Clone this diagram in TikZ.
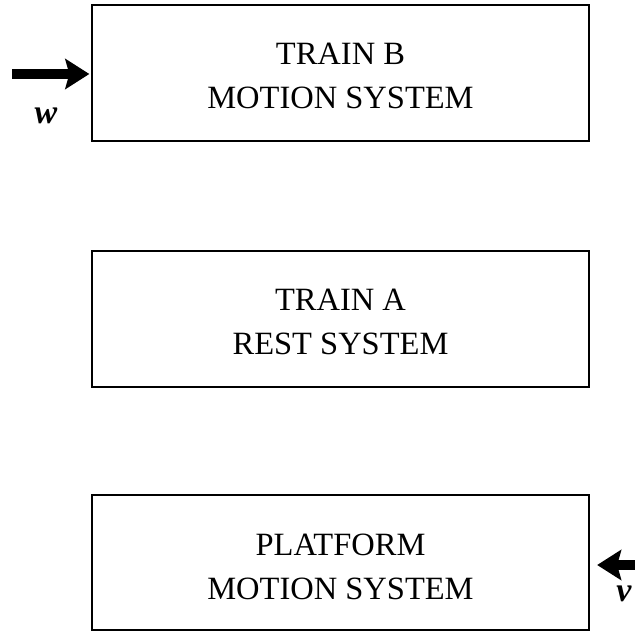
\documentclass[tikz,border=0pt]{standalone}
\usepackage{fontspec}
\setmainfont{Liberation Serif}
\usetikzlibrary{arrows.meta}
\tikzset{
  sysbox/.style={draw, line width=2.3pt, minimum width=497pt, minimum height=136pt, inner sep=0pt},
  boxtext/.style={align=center, inner sep=0pt, font=\fontsize{32.5}{44}\selectfont},
  inarrow/.style={line width=10pt, -{Stealth[length=24pt,width=30pt,inset=4pt]}},
  inlabel/.style={inner sep=0pt, font=\fontsize{34}{40}\selectfont\bfseries\itshape}
}
\begin{document}
\begin{tikzpicture}[x=1pt,y=-1pt]
\useasboundingbox (0,0) rectangle (635,631);
\node[sysbox] (b) at (340.5,73) {};
\node[sysbox] (a) at (340.5,319) {};
\node[sysbox, minimum height=135pt] (p) at (340.5,562.5) {};
\node[boxtext] (bt) at ([yshift=-3pt]b.center) {TRAIN B\\MOTION SYSTEM};
\node[boxtext] (at) at ([yshift=-3pt]a.center) {TRAIN A\\REST SYSTEM};
\node[boxtext] (pt) at ([yshift=-4pt]p.center) {PLATFORM\\MOTION SYSTEM};
\coordinate (ws) at (12,74);
\coordinate (vs) at (640,565);
\draw[inarrow, shorten >=1.5pt] (ws) -- (ws -| b.west);
\draw[inarrow, shorten >=7pt] (vs) -- (vs -| p.east);
\node[inlabel] (wl) at (46,116) {w};
\node[inlabel] (vl) at (624,594) {v};
\end{tikzpicture}
\end{document}
